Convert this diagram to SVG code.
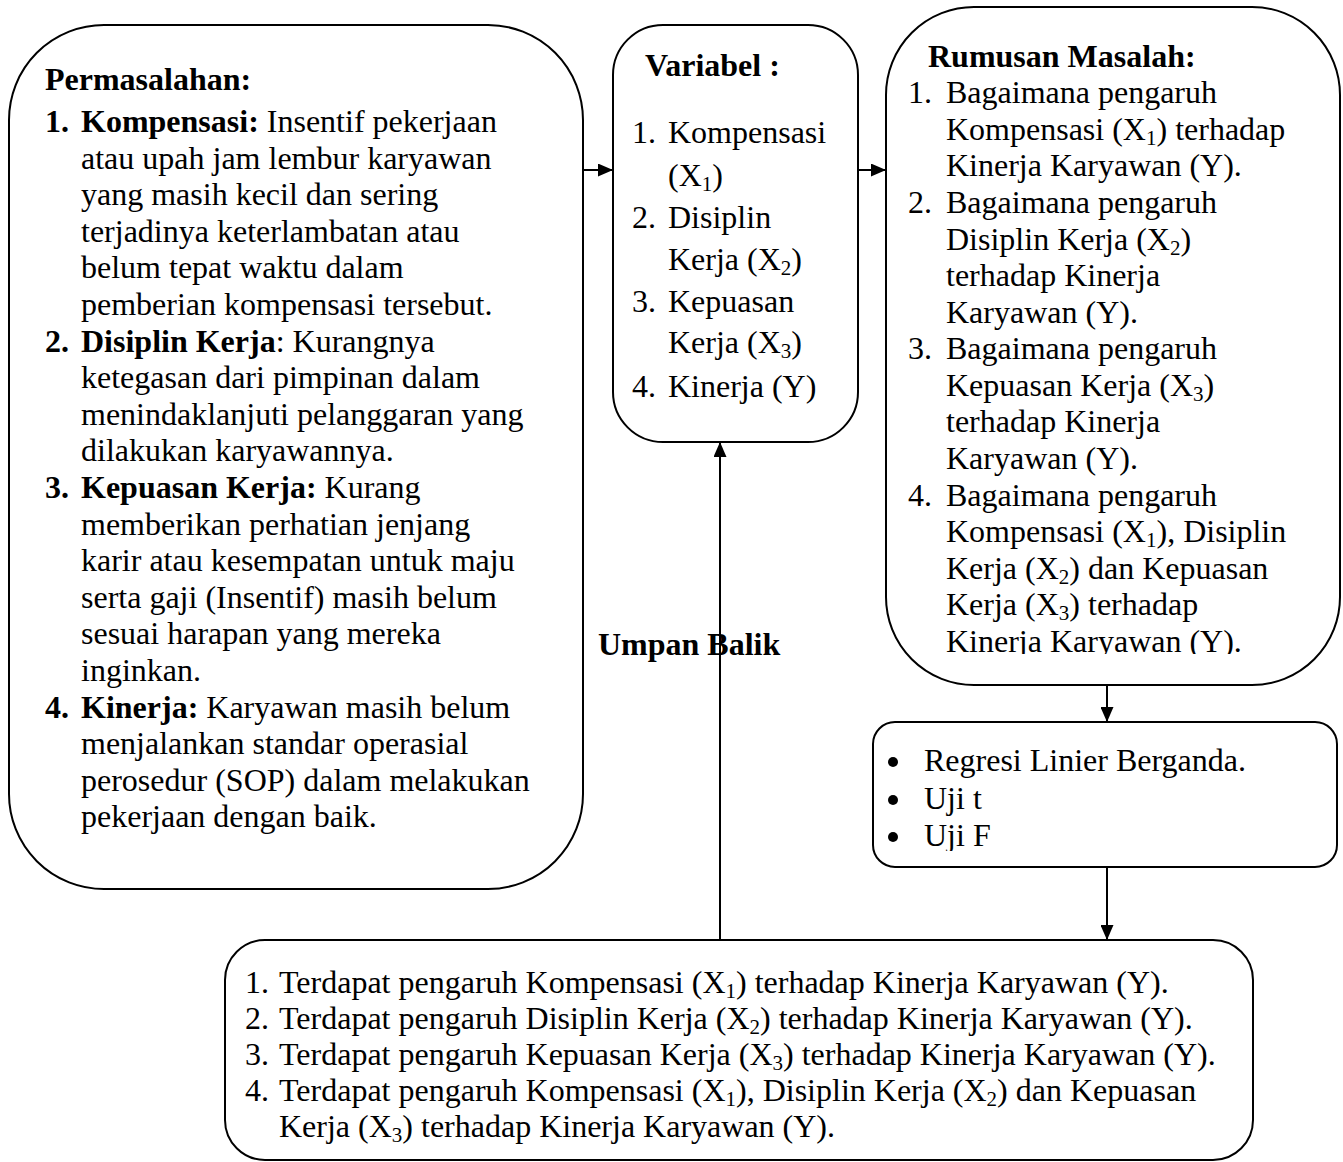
<svg xmlns="http://www.w3.org/2000/svg" width="1343" height="1162" viewBox="0 0 1343 1162">
<style>
.box{fill:#fff;stroke:#000;stroke-width:2}
.t{font-family:"Liberation Serif","Times New Roman",serif;font-size:32px;fill:#000}
.b{font-weight:bold}
.con{stroke:#000;stroke-width:2;fill:none}
</style>
<defs>
<marker id="ah" viewBox="0 0 15 13" refX="15" refY="6.5" markerWidth="15" markerHeight="13" markerUnits="userSpaceOnUse" orient="auto">
<path d="M0,0 L15,6.5 L0,13 Z" fill="#000"/>
</marker>
<clipPath id="clipR"><rect x="886" y="7" width="454" height="647"/></clipPath>
<clipPath id="clipG"><rect x="873" y="722" width="464" height="129"/></clipPath>
</defs>

<g id="permasalahan">
<rect class="box" x="9" y="25" width="574" height="864" rx="95" ry="95"/>
<text class="t b" x="45" y="90">Permasalahan:</text>
<text class="t"><tspan class="b" x="45" y="132">1.</tspan><tspan class="b" x="81" y="132">Kompensasi:</tspan> Insentif pekerjaan</text>
<text class="t" x="81" y="168.6">atau upah jam lembur karyawan</text>
<text class="t" x="81" y="205.2">yang masih kecil dan sering</text>
<text class="t" x="81" y="241.8">terjadinya keterlambatan atau</text>
<text class="t" x="81" y="278.4">belum tepat waktu dalam</text>
<text class="t" x="81" y="315">pemberian kompensasi tersebut.</text>
<text class="t"><tspan class="b" x="45" y="351.6">2.</tspan><tspan class="b" x="81" y="351.6">Disiplin Kerja</tspan>: Kurangnya</text>
<text class="t" x="81" y="388.2">ketegasan dari pimpinan dalam</text>
<text class="t" x="81" y="424.8">menindaklanjuti pelanggaran yang</text>
<text class="t" x="81" y="461.4">dilakukan karyawannya.</text>
<text class="t"><tspan class="b" x="45" y="498">3.</tspan><tspan class="b" x="81" y="498">Kepuasan Kerja:</tspan> Kurang</text>
<text class="t" x="81" y="534.6">memberikan perhatian jenjang</text>
<text class="t" x="81" y="571.2">karir atau kesempatan untuk maju</text>
<text class="t" x="81" y="607.8">serta gaji (Insentif) masih belum</text>
<text class="t" x="81" y="644.4">sesuai harapan yang mereka</text>
<text class="t" x="81" y="681">inginkan.</text>
<text class="t"><tspan class="b" x="45" y="717.6">4.</tspan><tspan class="b" x="81" y="717.6">Kinerja:</tspan> Karyawan masih belum</text>
<text class="t" x="81" y="754.2">menjalankan standar operasial</text>
<text class="t" x="81" y="790.8">perosedur (SOP) dalam melakukan</text>
<text class="t" x="81" y="827.4">pekerjaan dengan baik.</text>
</g>

<g id="variabel">
<rect class="box" x="613" y="25" width="245" height="417" rx="50" ry="50"/>
<text class="t b" x="645" y="76">Variabel :</text>
<text class="t"><tspan x="632" y="143">1.</tspan><tspan x="668" y="143">Kompensasi</tspan></text>
<text class="t" x="668" y="186">(X<tspan font-size="21" dy="5">1</tspan><tspan dy="-5">)</tspan></text>
<text class="t"><tspan x="632" y="228">2.</tspan><tspan x="668" y="228">Disiplin</tspan></text>
<text class="t" x="668" y="270">Kerja (X<tspan font-size="21" dy="5">2</tspan><tspan dy="-5">)</tspan></text>
<text class="t"><tspan x="632" y="312">3.</tspan><tspan x="668" y="312">Kepuasan</tspan></text>
<text class="t" x="668" y="353">Kerja (X<tspan font-size="21" dy="5">3</tspan><tspan dy="-5">)</tspan></text>
<text class="t"><tspan x="632" y="397">4.</tspan><tspan x="668" y="397">Kinerja (Y)</tspan></text>
</g>

<g id="rumusan">
<rect class="box" x="886" y="7" width="454" height="678" rx="88" ry="88"/>
<g clip-path="url(#clipR)">
<text class="t b" x="928" y="67">Rumusan Masalah:</text>
<text class="t"><tspan x="908" y="103">1.</tspan><tspan x="946" y="103">Bagaimana pengaruh</tspan></text>
<text class="t" x="946" y="140">Kompensasi (X<tspan font-size="21" dy="5">1</tspan><tspan dy="-5">) terhadap</tspan></text>
<text class="t" x="946" y="176">Kinerja Karyawan (Y).</text>
<text class="t"><tspan x="908" y="213">2.</tspan><tspan x="946" y="213">Bagaimana pengaruh</tspan></text>
<text class="t" x="946" y="250">Disiplin Kerja (X<tspan font-size="21" dy="5">2</tspan><tspan dy="-5">)</tspan></text>
<text class="t" x="946" y="286">terhadap Kinerja</text>
<text class="t" x="946" y="323">Karyawan (Y).</text>
<text class="t"><tspan x="908" y="359">3.</tspan><tspan x="946" y="359">Bagaimana pengaruh</tspan></text>
<text class="t" x="946" y="396">Kepuasan Kerja (X<tspan font-size="21" dy="5">3</tspan><tspan dy="-5">)</tspan></text>
<text class="t" x="946" y="432">terhadap Kinerja</text>
<text class="t" x="946" y="469">Karyawan (Y).</text>
<text class="t"><tspan x="908" y="506">4.</tspan><tspan x="946" y="506">Bagaimana pengaruh</tspan></text>
<text class="t" x="946" y="542">Kompensasi (X<tspan font-size="21" dy="5">1</tspan><tspan dy="-5">), Disiplin</tspan></text>
<text class="t" x="946" y="579">Kerja (X<tspan font-size="21" dy="5">2</tspan><tspan dy="-5">) dan Kepuasan</tspan></text>
<text class="t" x="946" y="615">Kerja (X<tspan font-size="21" dy="5">3</tspan><tspan dy="-5">) terhadap</tspan></text>
<text class="t" x="946" y="652">Kinerja Karyawan (Y).</text>
</g>
</g>

<g id="analisis">
<rect class="box" x="873" y="722" width="464" height="145" rx="22" ry="22"/>
<g clip-path="url(#clipG)">
<circle cx="893" cy="762" r="5"/>
<circle cx="893" cy="800" r="5"/>
<circle cx="893" cy="837" r="5"/>
<text class="t" x="924" y="771">Regresi Linier Berganda.</text>
<text class="t" x="924" y="809">Uji t</text>
<text class="t" x="924" y="846">Uji F</text>
</g>
</g>

<g id="hasil">
<rect class="box" x="225" y="940" width="1028" height="220" rx="40" ry="40"/>
<text class="t"><tspan x="245" y="993">1.</tspan><tspan x="279" y="993">Terdapat pengaruh Kompensasi (X</tspan><tspan font-size="21" dy="5">1</tspan><tspan dy="-5">) terhadap Kinerja Karyawan (Y).</tspan></text>
<text class="t"><tspan x="245" y="1029">2.</tspan><tspan x="279" y="1029">Terdapat pengaruh Disiplin Kerja (X</tspan><tspan font-size="21" dy="5">2</tspan><tspan dy="-5">) terhadap Kinerja Karyawan (Y).</tspan></text>
<text class="t"><tspan x="245" y="1065">3.</tspan><tspan x="279" y="1065">Terdapat pengaruh Kepuasan Kerja (X</tspan><tspan font-size="21" dy="5">3</tspan><tspan dy="-5">) terhadap Kinerja Karyawan (Y).</tspan></text>
<text class="t"><tspan x="245" y="1101">4.</tspan><tspan x="279" y="1101">Terdapat pengaruh Kompensasi (X</tspan><tspan font-size="21" dy="5">1</tspan><tspan dy="-5">), Disiplin Kerja (X</tspan><tspan font-size="21" dy="5">2</tspan><tspan dy="-5">) dan Kepuasan</tspan></text>
<text class="t" x="279" y="1137">Kerja (X<tspan font-size="21" dy="5">3</tspan><tspan dy="-5">) terhadap Kinerja Karyawan (Y).</tspan></text>
</g>

<g id="connectors">
<line class="con" x1="583" y1="170" x2="613" y2="170" marker-end="url(#ah)"/>
<line class="con" x1="858" y1="170" x2="886" y2="170" marker-end="url(#ah)"/>
<line class="con" x1="1107" y1="685" x2="1107" y2="722" marker-end="url(#ah)"/>
<line class="con" x1="1107" y1="867" x2="1107" y2="940" marker-end="url(#ah)"/>
<line class="con" x1="720" y1="940" x2="720" y2="442" marker-end="url(#ah)"/>
<text class="t b" x="598" y="655">Umpan  Balik</text>
</g>
</svg>
